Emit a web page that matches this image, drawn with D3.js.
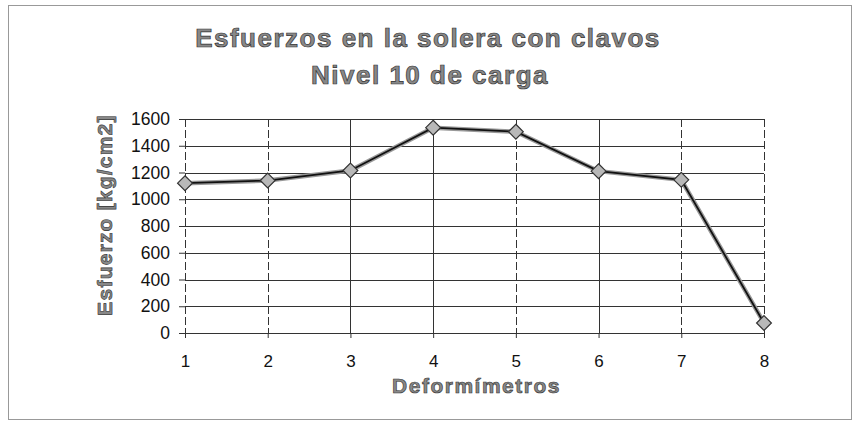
<!DOCTYPE html>
<html>
<head>
<meta charset="utf-8">
<script src="https://cdn.jsdelivr.net/npm/d3@7"></script>
<style>
  body { margin: 0; background: #fff; }
  text { font-family: "Liberation Sans", Arial, sans-serif; }
</style>
</head>
<body>
<div id="chart-area"></div>
<script>
// data
var deformimetros = [1, 2, 3, 4, 5, 6, 7, 8];
var esfuerzo = [1120, 1140, 1215, 1535, 1505, 1210, 1145, 75];
var yTicks = [0, 200, 400, 600, 800, 1000, 1200, 1400, 1600];

var margin = {left: 185, right: 98, top: 119, bottom: 92};
var width = 862 - margin.left - margin.right,
	height = 425 - margin.top - margin.bottom;

var svg = d3.select("#chart-area")
	.append("svg")
		.attr("width", 862)
		.attr("height", 425);

// outer frame
svg.append("rect")
	.attr("x", 8.5).attr("y", 5.5)
	.attr("width", 843).attr("height", 414)
	.attr("fill", "none")
	.attr("stroke", "#999")
	.attr("stroke-width", 1);

var canvas = svg.append("g")
	.attr("transform", "translate(" + margin.left + ", " + margin.top + ")");

//scales
var x = d3.scaleLinear()
	.domain([1, 8])
	.range([0, width]);

var y = d3.scaleLinear()
	.domain([0, 1600])
	.range([height, 0]);

//grid
canvas.append("g")
	.selectAll("line")
	.data(yTicks)
	.enter().append("line")
		.attr("x1", 0).attr("x2", width)
		.attr("y1", function(d){ return Math.round(y(d)) + 0.5 })
		.attr("y2", function(d){ return Math.round(y(d)) + 0.5 })
		.attr("stroke", "#333")
		.attr("stroke-width", 1);

// scanned verticals look broken on some of the lines
var dashed = [true, true, false, false, true, false, true, true];
canvas.append("g")
	.selectAll("line")
	.data(deformimetros)
	.enter().append("line")
		.attr("y1", 0).attr("y2", height)
		.attr("x1", function(d){ return Math.round(x(d)) + 0.5 })
		.attr("x2", function(d){ return Math.round(x(d)) + 0.5 })
		.attr("stroke", "#333")
		.attr("stroke-width", 1)
		.attr("stroke-dasharray", function(d, i){ return dashed[i] ? "8,3" : "none" });

//axes
var yAxisCall = d3.axisLeft(y)
	.tickValues(yTicks)
	.tickFormat(d3.format("d"))
	.tickSize(6)
	.tickPadding(9);

var yAxis = canvas.append("g").call(yAxisCall);
yAxis.select(".domain").remove();
yAxis.selectAll("text")
	.attr("font-size", 17.5)
	.attr("font-family", "Liberation Sans, Arial, sans-serif")
	.attr("fill", "#111");
yAxis.selectAll("line").attr("stroke", "#333");

var xAxisCall = d3.axisBottom(x)
	.tickValues(deformimetros)
	.tickFormat(d3.format("d"))
	.tickSize(5)
	.tickPadding(17);

var xAxis = canvas.append("g")
	.attr("transform", "translate(0, " + height + ")")
	.call(xAxisCall);
xAxis.select(".domain").remove();
xAxis.selectAll("text")
	.attr("font-size", 17)
	.attr("font-family", "Liberation Sans, Arial, sans-serif")
	.attr("fill", "#111");
xAxis.selectAll("line").attr("stroke", "#333");

//line
var line = d3.line()
	.x(function(d, i){ return x(deformimetros[i]) })
	.y(function(d){ return y(d) });

canvas.append("path")
	.datum(esfuerzo)
	.attr("d", line)
	.attr("fill", "none")
	.attr("stroke", "#999")
	.attr("stroke-width", 4.5);

canvas.append("path")
	.datum(esfuerzo)
	.attr("d", line)
	.attr("fill", "none")
	.attr("stroke", "#111")
	.attr("stroke-width", 1.8);

//markers
canvas.selectAll(".marker")
	.data(esfuerzo)
	.enter().append("path")
		.attr("class", "marker")
		.attr("transform", function(d, i){ return "translate(" + x(deformimetros[i]) + "," + y(d) + ")" })
		.attr("d", d3.symbol().type(d3.symbolDiamond2).size(140))
		.attr("fill", "#b8b8b8")
		.attr("stroke", "#333")
		.attr("stroke-width", 1.2);

//titles
var title = svg.append("text")
	.attr("text-anchor", "middle")
	.attr("font-size", 26)
	.attr("font-weight", "bold")
	.attr("letter-spacing", 1.5)
	.attr("fill", "#888")
	.attr("stroke", "#333")
	.attr("stroke-width", 0.7);
title.append("tspan").attr("x", 428).attr("y", 47).text("Esfuerzos en la solera con clavos");
title.append("tspan").attr("x", 430).attr("y", 84).text("Nivel 10 de carga");

svg.append("text")
	.attr("transform", "translate(112, " + 215 + ") rotate(-90)")
	.attr("text-anchor", "middle")
	.attr("font-size", 21)
	.attr("font-weight", "bold")
	.attr("letter-spacing", 1.2)
	.attr("fill", "#888")
	.attr("stroke", "#333")
	.attr("stroke-width", 0.6)
	.text("Esfuerzo [kg/cm2]");

svg.append("text")
	.attr("x", margin.left + width/2 + 2)
	.attr("y", 393)
	.attr("text-anchor", "middle")
	.attr("font-size", 21)
	.attr("font-weight", "bold")
	.attr("letter-spacing", 1.5)
	.attr("fill", "#888")
	.attr("stroke", "#333")
	.attr("stroke-width", 0.6)
	.text("Deformímetros");
</script>
</body>
</html>
